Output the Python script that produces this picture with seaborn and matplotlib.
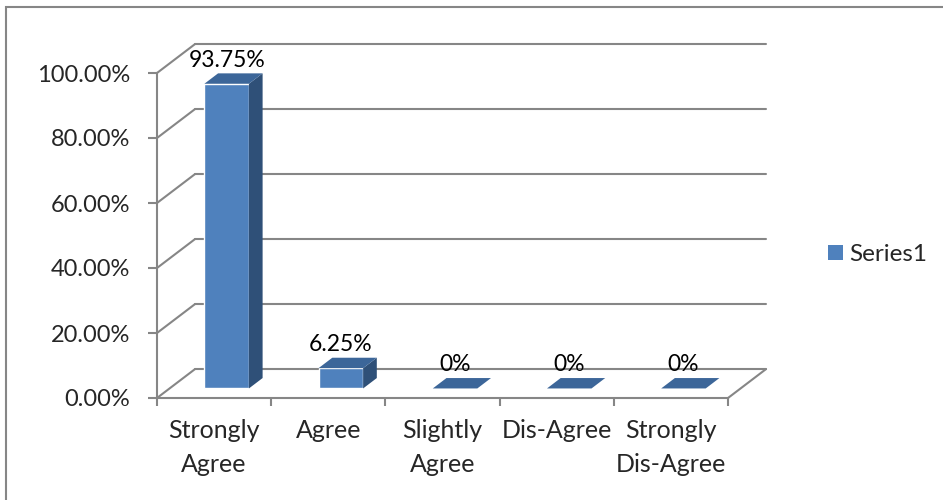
import pandas as pd
import seaborn as sns
import matplotlib.pyplot as plt
from matplotlib.patches import Polygon, Rectangle, Patch
from matplotlib.ticker import PercentFormatter, FixedLocator

categories = ["Strongly\nAgree", "Agree", "Slightly\nAgree", "Dis-Agree", "Strongly\nDis-Agree"]
values = [0.9375, 0.0625, 0.0, 0.0, 0.0]
value_labels = ["93.75%", "6.25%", "0%", "0%", "0%"]
y_ticks = [0.0, 0.2, 0.4, 0.6, 0.8, 1.0]
series_name = "Series1"

sns.set_style("white")
plt.rcParams['font.family'] = ['Lato', 'DejaVu Sans']

GRID = "#868686"
FRONT = "#4F81BD"
SIDE = "#2F5078"
TOP = "#3C6699"

# depth of the fake 3d box, in data units
DX = 0.333
DY = 0.089
F1, F2 = 0.33, 0.69

fig = plt.figure(figsize=(9.43, 5.0), dpi=100)
ax = fig.add_axes([157 / 943, 102 / 500, 571 / 943, 325 / 500])

df = pd.DataFrame({"cat": categories, "val": values})
sns.barplot(data=df, x="cat", y="val", color=FRONT, saturation=1, width=0.39, ax=ax, zorder=3)

ax.set_xlim(-0.5, 4.5)
ax.set_ylim(0, 1)

# walls and gridlines
x0, x1 = -0.5, 4.5
for v in y_ticks:
    ax.plot([x0 + DX, x1 + DX], [v + DY, v + DY], color=GRID, lw=1.5, clip_on=False, zorder=1)
    ax.plot([x0, x0 + DX], [v, v + DY], color=GRID, lw=1.5, clip_on=False, zorder=1)
ax.plot([x1, x1 + DX], [0, DY], color=GRID, lw=1.5, clip_on=False, zorder=1)

# 3d faces for bars
for p, lab in zip(ax.patches, value_labels):
    bx, bw, h = p.get_x(), p.get_width(), p.get_height()
    p.set_x(bx + F1 * DX)
    p.set_y(F1 * DY)
    p.set_clip_on(False)
    fx = bx + F1 * DX
    side = Polygon([(fx + bw, F1 * DY), (bx + bw + F2 * DX, F2 * DY),
                    (bx + bw + F2 * DX, h + F2 * DY), (fx + bw, h + F1 * DY)],
                   closed=True, facecolor=SIDE, edgecolor="none", zorder=3, clip_on=False)
    top = Polygon([(fx, h + F1 * DY), (fx + bw, h + F1 * DY),
                   (bx + bw + F2 * DX, h + F2 * DY), (bx + F2 * DX, h + F2 * DY)],
                  closed=True, facecolor=TOP, edgecolor="none", zorder=3, clip_on=False)
    ax.add_patch(side)
    ax.add_patch(top)
    ax.annotate(lab, xy=(fx + bw / 2, h + F2 * DY), xytext=(0, 2), textcoords="offset points",
                ha="center", va="bottom", fontsize=16.5, color="black")

ax.set_xlabel("")
ax.set_ylabel("")
ax.yaxis.set_major_locator(FixedLocator(y_ticks))
ax.yaxis.set_major_formatter(PercentFormatter(xmax=1, decimals=2))
ax.xaxis.set_minor_locator(FixedLocator([i - 0.5 for i in range(len(categories) + 1)]))

for s in ["top", "right"]:
    ax.spines[s].set_visible(False)
for s in ["left", "bottom"]:
    ax.spines[s].set_color(GRID)
    ax.spines[s].set_linewidth(1.5)
    ax.spines[s].set_zorder(1)

ax.tick_params(axis="y", which="major", left=True, length=6.5, width=1.5, color=GRID,
               labelsize=17, pad=13)
ax.tick_params(axis="x", which="major", length=0, labelsize=18, pad=15)
ax.tick_params(axis="x", which="minor", bottom=True, length=6, width=1.5, color=GRID)
for t in ax.get_xticklabels():
    t.set_linespacing(1.6)
    t.set_va("top")

handle = Patch(facecolor=FRONT, edgecolor="none", label=series_name)
fig.legend(handles=[handle], loc="center left", bbox_to_anchor=(828 / 943, 1 - 254.5 / 500),
           frameon=False, fontsize=17.5, handlelength=0.62, handleheight=0.62,
           handletextpad=0.25, borderpad=0, borderaxespad=0)

# chart border (its right and bottom sides fall outside the image)
fig.add_artist(Rectangle((6 / 943, -0.01), 1.0, 1 - 7 / 500 + 0.01, transform=fig.transFigure,
                         fill=False, edgecolor=GRID, lw=1.5))

fig.savefig("out.png", dpi=100, facecolor="white")
